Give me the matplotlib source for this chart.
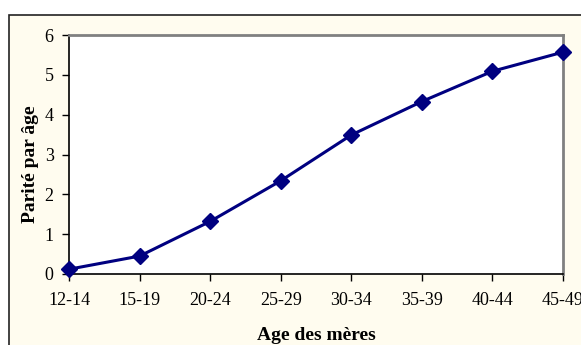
import matplotlib
matplotlib.use("Agg")
import matplotlib.pyplot as plt
from matplotlib.patches import Rectangle

groupes = ["12-14", "15-19", "20-24", "25-29", "30-34", "35-39", "40-44", "45-49"]
parite = [0.12, 0.45, 1.32, 2.34, 3.49, 4.33, 5.09, 5.57]

W, H = 581, 345
fig = plt.figure(figsize=(W / 100, H / 100), dpi=100)
fig.patch.set_facecolor("white")

# outer chart frame (extends beyond the right and bottom edges)
frame = Rectangle((9 / W, -0.05), 1.0, (H - 15) / H + 0.05, transform=fig.transFigure,
                  facecolor="#FFFCEF", edgecolor="#222222", linewidth=1.2, zorder=-1)
fig.add_artist(frame)

ax = fig.add_axes([69 / W, 1 - 274 / H, (563 - 69) / W, (274 - 35) / H])
ax.set_facecolor("white")
x = list(range(len(groupes)))
ax.plot(x, parite, color="#000080", linewidth=2.2, marker="D", markersize=8.5,
        markerfacecolor="#000080", markeredgecolor="#000080", clip_on=False, zorder=5)

ax.set_xlim(0, len(groupes) - 1)
ax.set_ylim(0, 6)
ax.set_xticks(x)
ax.set_xticklabels(groupes)
ax.set_yticks(range(0, 7))

serif = ["Liberation Serif", "DejaVu Serif"]
for lab in ax.get_xticklabels() + ax.get_yticklabels():
    lab.set_fontfamily(serif)
    lab.set_fontsize(13)
    lab.set_color("black")

ax.tick_params(axis="x", direction="out", length=5, width=1, pad=8)
ax.tick_params(axis="y", direction="out", length=5, width=1, pad=6)

ax.spines["left"].set_color("black")
ax.spines["bottom"].set_color("black")
ax.spines["left"].set_linewidth(1.2)
ax.spines["bottom"].set_linewidth(1.2)
ax.spines["top"].set_color("#808080")
ax.spines["right"].set_color("#808080")
ax.spines["top"].set_linewidth(2)
ax.spines["right"].set_linewidth(2)

ax.set_xlabel("Age des mères", fontfamily=serif, fontsize=14, fontweight="bold", labelpad=13)
ax.set_ylabel("Parité par âge", fontfamily=serif, fontsize=14, fontweight="bold")
ax.yaxis.set_label_coords(-0.061, 0.46)

fig.savefig("out.png", dpi=100)
